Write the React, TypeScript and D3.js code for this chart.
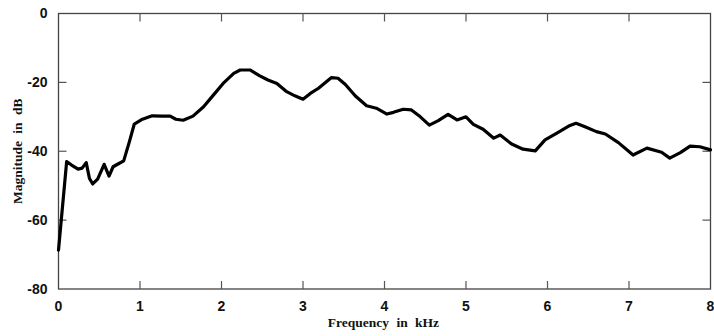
// App.tsx
import React, { useRef, useEffect } from "react";
import * as d3 from "d3";

// frequency (kHz) and magnitude (dB)
const freqKHz = [
  0.0, 0.1, 0.16, 0.24, 0.29, 0.34, 0.38, 0.42, 0.48, 0.56, 0.62, 0.67, 0.73,
  0.8, 0.87, 0.93, 1.03, 1.15, 1.27, 1.37, 1.44, 1.53, 1.65, 1.78, 1.9, 2.02,
  2.15, 2.23, 2.35, 2.47, 2.57, 2.68, 2.8, 2.9, 3.0, 3.09, 3.19, 3.35, 3.43,
  3.52, 3.64, 3.78, 3.9, 4.03, 4.11, 4.23, 4.33, 4.44, 4.55, 4.66, 4.78, 4.89,
  5.0, 5.09, 5.21, 5.34, 5.42, 5.56, 5.7, 5.85, 5.97, 6.11, 6.26, 6.35, 6.46,
  6.6, 6.71, 6.87, 7.05, 7.22, 7.4, 7.5, 7.63, 7.75, 7.87, 8.0,
];
const magnitudeDB = [
  -68.7, -43.0, -44.0, -45.2, -44.9, -43.3, -47.9, -49.5, -48.1, -43.8, -47.2,
  -44.5, -43.7, -42.8, -37.2, -32.1, -30.7, -29.7, -29.8, -29.8, -30.7, -31.0,
  -29.8, -27.1, -23.7, -20.3, -17.4, -16.4, -16.4, -18.1, -19.3, -20.3, -22.7,
  -23.9, -24.9, -23.2, -21.7, -18.6, -18.8, -20.6, -23.9, -26.8, -27.5, -29.2,
  -28.7, -27.8, -28.0, -30.0, -32.4, -31.1, -29.3, -30.9, -30.0, -32.2, -33.6,
  -36.2, -35.3, -37.9, -39.4, -39.9, -36.7, -34.8, -32.7, -31.9, -32.9, -34.3,
  -35.0, -37.5, -41.1, -39.1, -40.3, -42.0, -40.4, -38.5, -38.7, -39.6,
];
const xTicks = [0, 1, 2, 3, 4, 5, 6, 7, 8];
const yTicks = [0, -20, -40, -60, -80];

const App = () => {
  const ref = useRef<HTMLDivElement>(null);

  useEffect(() => {
    const container = ref.current;
    if (!container) return;

    const width = 714;
    const height = 336;
    const margin = { top: 13.5, right: 3.5, bottom: 47, left: 58.5 };
    const innerW = width - margin.left - margin.right;
    const innerH = height - margin.top - margin.bottom;
    const tickLen = 8;

    const x = d3.scaleLinear().domain([0, 8]).range([0, innerW]);
    const y = d3.scaleLinear().domain([-80, 0]).range([innerH, 0]);

    const svg = d3.create("svg")
      .attr("width", width)
      .attr("height", height)
      .style("display", "block")
      .style("background", "#fff");

    const g = svg.append("g")
      .attr("transform", `translate(${margin.left},${margin.top})`);

    // frame
    g.append("rect")
      .attr("width", innerW)
      .attr("height", innerH)
      .attr("fill", "none")
      .attr("stroke", "#444")
      .attr("stroke-width", 1.3);

    const ticks = g.append("g")
      .attr("stroke", "#555")
      .attr("stroke-width", 1.2);

    xTicks.slice(1, -1).forEach(t => {
      ticks.append("line")
        .attr("x1", x(t)).attr("x2", x(t))
        .attr("y1", innerH).attr("y2", innerH - tickLen);
      ticks.append("line")
        .attr("x1", x(t)).attr("x2", x(t))
        .attr("y1", 0).attr("y2", tickLen);
    });
    yTicks.slice(1, -1).forEach(t => {
      ticks.append("line")
        .attr("x1", 0).attr("x2", tickLen)
        .attr("y1", y(t)).attr("y2", y(t));
      ticks.append("line")
        .attr("x1", innerW).attr("x2", innerW - tickLen)
        .attr("y1", y(t)).attr("y2", y(t));
    });

    const labelFont = "'Liberation Sans', Arial, sans-serif";

    g.append("g")
      .selectAll("text")
      .data(xTicks)
      .join("text")
      .attr("x", d => x(d))
      .attr("y", innerH + 22)
      .attr("text-anchor", "middle")
      .style("font-family", labelFont)
      .style("font-weight", "bold")
      .style("font-size", "14px")
      .attr("fill", "#111")
      .text(d => String(d));

    g.append("g")
      .selectAll("text")
      .data(yTicks)
      .join("text")
      .attr("x", -11)
      .attr("y", d => y(d))
      .attr("dy", "0.35em")
      .attr("text-anchor", "end")
      .style("font-family", labelFont)
      .style("font-weight", "bold")
      .style("font-size", "14px")
      .attr("fill", "#111")
      .text(d => String(d));

    const titleFont = "'Liberation Serif', 'Times New Roman', serif";

    svg.append("text")
      .attr("x", margin.left + innerW / 2 - 1)
      .attr("y", 327)
      .attr("text-anchor", "middle")
      .style("font-family", titleFont)
      .style("font-weight", "bold")
      .style("font-size", "13.5px")
      .style("word-spacing", "4px")
      .attr("fill", "#111")
      .text("Frequency in kHz");

    svg.append("text")
      .attr("transform", `translate(21.5,${margin.top + innerH / 2}) rotate(-90)`)
      .attr("text-anchor", "middle")
      .style("font-family", titleFont)
      .style("font-weight", "bold")
      .style("font-size", "13.5px")
      .style("word-spacing", "4px")
      .attr("fill", "#111")
      .text("Magnitude in dB");

    const line = d3.line<number>()
      .x((d, i) => x(freqKHz[i]))
      .y(d => y(d));

    g.append("path")
      .datum(magnitudeDB)
      .attr("d", line)
      .attr("fill", "none")
      .attr("stroke", "#000")
      .attr("stroke-width", 3.2)
      .attr("stroke-linejoin", "round")
      .attr("stroke-linecap", "round");

    container.innerHTML = "";
    container.appendChild(svg.node() as SVGSVGElement);
  }, []);

  return (
    <div
      ref={ref}
      style={{ position: "absolute", left: 0, top: 0, width: 714, height: 336 }}
    ></div>
  );
};

export default App;
